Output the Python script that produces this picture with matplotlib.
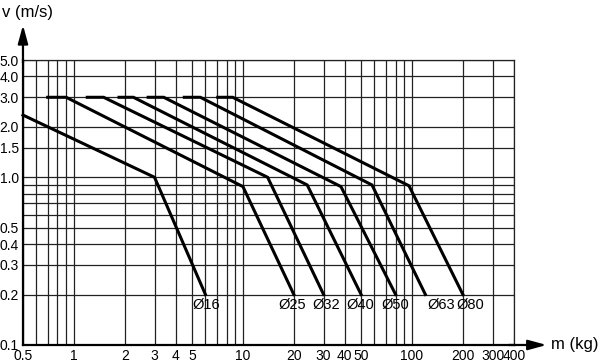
import numpy as np
import matplotlib.pyplot as plt

plt.rcParams['font.family'] = ['Liberation Sans', 'DejaVu Sans']

# mass (kg) / speed (m/s) break points per cylinder bore
labels = ['Ø16', 'Ø25', 'Ø32', 'Ø40', 'Ø50', 'Ø63', 'Ø80']
m16 = [0.5, 3, 6]
v16 = [2.35, 1.0, 0.2]
m25 = [0.7, 0.9, 10, 20]
v25 = [3.0, 3.0, 0.88, 0.2]
m32 = [1.2, 1.5, 14, 30]
v32 = [3.0, 3.0, 1.0, 0.2]
m40 = [1.85, 2.25, 24, 50]
v40 = [3.0, 3.0, 0.9, 0.2]
m50 = [2.75, 3.4, 38, 80]
v50 = [3.0, 3.0, 0.88, 0.2]
m63 = [4.5, 5.6, 58, 120]
v63 = [3.0, 3.0, 0.9, 0.2]
m80 = [7.1, 8.7, 96, 200]
v80 = [3.0, 3.0, 0.89, 0.2]

x_ticks = [0.5, 1, 2, 3, 4, 5, 10, 20, 30, 40, 50, 100, 200, 300, 400]
x_ticklabels = ['0.5', '1', '2', '3', '4', '5', '10', '20', '30', '40', '50',
                '100', '200', '300', '400']
x_minor = [0.6, 0.7, 0.8, 0.9, 6, 7, 8, 9, 60, 70, 80, 90]
y_ticks = [0.1, 0.2, 0.3, 0.4, 0.5, 1.0, 1.5, 2.0, 3.0, 4.0, 5.0]
y_ticklabels = ['0.1', '0.2', '0.3', '0.4', '0.5', '1.0', '1.5', '2.0',
                '3.0', '4.0', '5.0']
y_minor = [0.6, 0.7, 0.8, 0.9]

fig = plt.figure(figsize=(6, 3.62), dpi=100)
ax = fig.add_axes([0.0383, 0.047, 0.818, 0.787])
ax.set_xscale('log')
ax.set_yscale('log')
ax.set_xlim(0.5, 400)
ax.set_ylim(0.1, 5.0)

ax.set_xticks(x_ticks)
ax.set_xticklabels(x_ticklabels)
ax.set_xticks(x_minor, minor=True)
ax.set_xticklabels([], minor=True)
ax.set_yticks(y_ticks)
ax.set_yticklabels(y_ticklabels)
ax.set_yticks(y_minor, minor=True)
ax.set_yticklabels([], minor=True)
ax.tick_params(which='both', length=0, labelsize=10)
ax.tick_params(axis='x', pad=3)
ax.tick_params(axis='y', pad=3)
ax.grid(True, which='both', color='#222222', lw=0.9)
ax.set_axisbelow(True)

for s in ['top', 'right']:
    ax.spines[s].set_linewidth(0.9)
    ax.spines[s].set_color('#222222')
for s in ['left', 'bottom']:
    ax.spines[s].set_linewidth(1.6)

series = [(m16, v16), (m25, v25), (m32, v32), (m40, v40),
          (m50, v50), (m63, v63), (m80, v80)]
label_dx = [1, -2, 3, -1, 0, 16, 7]
for (m, v), lab, dx in zip(series, labels, label_dx):
    ax.plot(m, v, color='k', lw=2.2, solid_joinstyle='miter', clip_on=False)
    ax.annotate(lab, xy=(m[-1], v[-1]), xytext=(dx, -3),
                textcoords='offset pixels', ha='center', va='top',
                fontsize=10.5)

# axis arrows
arrow = dict(arrowstyle='-|>,head_length=1.1,head_width=0.3', color='k',
             lw=1.6, shrinkA=0, shrinkB=0)
ax.annotate('', xy=(0, 1.123), xytext=(0, 0.99), xycoords='axes fraction',
            arrowprops=arrow, annotation_clip=False)
ax.annotate('', xy=(1.067, 0), xytext=(0.99, 0), xycoords='axes fraction',
            arrowprops=arrow, annotation_clip=False)

fig.text(0.004, 0.985, 'v (m/s)', fontsize=12, ha='left', va='top')
fig.text(0.918, 0.047, 'm (kg)', fontsize=12, ha='left', va='center')

fig.savefig('out.png', dpi=100)
